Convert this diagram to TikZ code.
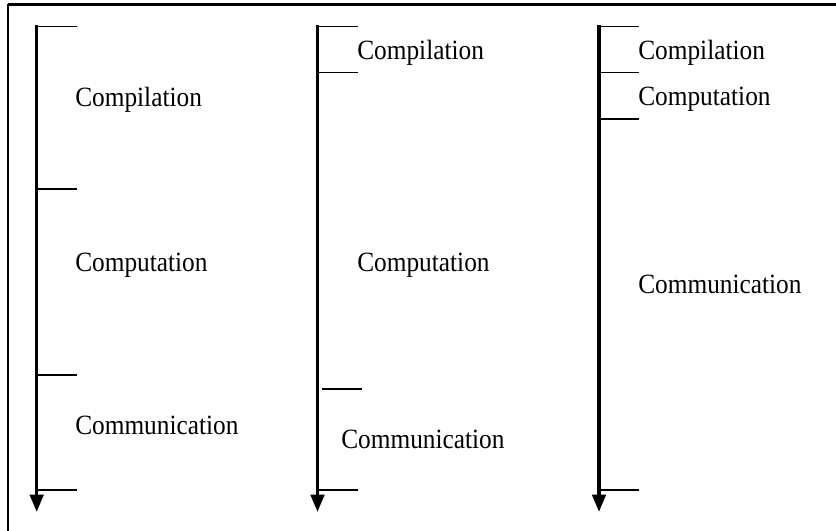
\documentclass[tikz,border=0pt]{standalone}
\usepackage{fontspec}
\setmainfont{Liberation Serif}
\usetikzlibrary{arrows.meta}
\newcommand{\lbltxt}[1]{\scalebox{1}[1.1]{#1}}
\begin{document}
\begin{tikzpicture}[x=0.75pt,y=-0.75pt,
  axisline/.style={line width=2.6pt,-{Triangle[width=10pt,length=13pt]}},
  tickline/.style={line width=1.2pt},
  framel/.style={line width=1.9pt},
  framethin/.style={line width=0.9pt},
  lbl/.style={anchor=base west,inner sep=0pt,font=\fontsize{19}{22}\selectfont}]
\useasboundingbox (0,0) rectangle (836,531);
% frame
\coordinate (ftl) at (8,4.5);
\coordinate (ftr) at (836,4.5);
\coordinate (fbl) at (8,531);
\draw[framel] (ftl) -- (ftr);
\draw[framethin] (ftl) -- (fbl);
% axis 1
\coordinate (a1t) at (36.7,25.5);
\coordinate (a1b) at (36.7,512);
\draw[axisline] (a1t) -- (a1b);
\foreach \y/\n in {26.7/a, 189/b, 375/c, 490/d}{
  \coordinate (t1\n) at (36.7,\y);
  \coordinate (e1\n) at (77,\y);
  \draw[tickline] (t1\n) -- (e1\n);
}
\node[lbl] (c1a) at (75,106.5) {\lbltxt{Compilation}};
\node[lbl] (c1b) at (75,272) {\lbltxt{Computation}};
\node[lbl] (c1c) at (75,434) {\lbltxt{Communication}};
% axis 2
\coordinate (a2t) at (317.5,25.5);
\coordinate (a2b) at (317.5,512);
\draw[axisline] (a2t) -- (a2b);
\foreach \y/\n in {26.7/a, 72.7/b, 490/d}{
  \coordinate (t2\n) at (317.5,\y);
  \coordinate (e2\n) at (358,\y);
  \draw[tickline] (t2\n) -- (e2\n);
}
\coordinate (t2c) at (322,389);
\coordinate (e2c) at (362,389);
\draw[tickline] (t2c) -- (e2c);
\node[lbl] (c2a) at (357,59.5) {\lbltxt{Compilation}};
\node[lbl] (c2b) at (357,272) {\lbltxt{Computation}};
\node[lbl] (c2c) at (341,448) {\lbltxt{Communication}};
% axis 3
\coordinate (a3t) at (599,25.5);
\coordinate (a3b) at (599,512);
\draw[axisline] (a3t) -- (a3b);
\foreach \y/\n in {26.7/a, 72.5/b, 119/c, 490/d}{
  \coordinate (t3\n) at (599,\y);
  \coordinate (e3\n) at (639,\y);
  \draw[tickline] (t3\n) -- (e3\n);
}
\node[lbl] (c3a) at (638,59.5) {\lbltxt{Compilation}};
\node[lbl] (c3b) at (638,106) {\lbltxt{Computation}};
\node[lbl] (c3c) at (638,294) {\lbltxt{Communication}};
\end{tikzpicture}
\end{document}
